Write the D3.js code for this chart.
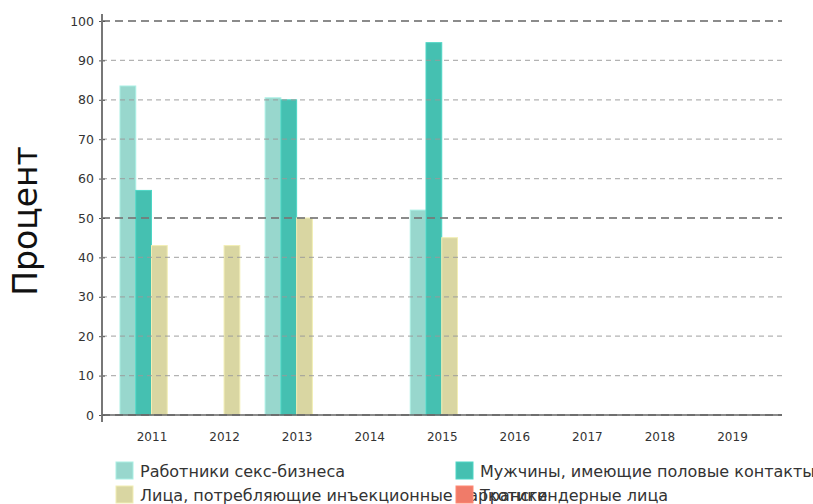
<!DOCTYPE html>
<html><head><meta charset="utf-8">
<script src="https://cdn.jsdelivr.net/npm/d3@7"></script>
<style>body{margin:0;background:#fff}svg{display:block;font-family:"DejaVu Sans",sans-serif}</style>
</head><body><svg id="c" width="813" height="504"></svg>
<script>
const years = ["2011","2012","2013","2014","2015","2016","2017","2018","2019"];
const seriesNames = ["Работники секс-бизнеса","Мужчины, имеющие половые контакты","Лица, потребляющие инъекционные наркотики","Трансгендерные лица"];
const sexWorkers = [83.5, null, 80.5, null, 52, null, null, null, null];
const msm = [57, null, 80, null, 94.5, null, null, null, null];
const pwid = [43, 43, 50, null, 45, null, null, null, null];
const transgender = [null, null, null, null, null, null, null, null, null];
const colors = ["#98d7cd","#45c0b1","#d9d6a2","#f07b69"];
const yTicks = [0,10,20,30,40,50,60,70,80,90,100];
const allSeries = [sexWorkers, msm, pwid, transgender];

const svg = d3.select("#c");
const x = d3.scalePoint().domain(years).range([151.5, 732]);
const y = d3.scaleLinear().domain([0,100]).range([415, 21]);
const sub = d3.scaleBand().domain(d3.range(4)).range([-31.5, 31.5]);

const g = svg.append("g");
allSeries.forEach((s, si) => {
  g.selectAll(null).data(years.map((yr,i)=>({yr, v:s[i]})).filter(d=>d.v!=null))
   .enter().append("rect")
   .attr("x", d => x(d.yr) + sub(si))
   .attr("width", sub.bandwidth())
   .attr("y", d => y(d.v))
   .attr("height", d => y(0) - y(d.v))
   .attr("fill", colors[si])
   .attr("stroke", d3.color(colors[si]).brighter(0.3))
   .attr("stroke-width", 1);
});

const grid = svg.append("g");
yTicks.forEach(t => {
  const major = t % 50 === 0;
  grid.append("line").attr("x1", 102).attr("x2", 782).attr("y1", y(t)).attr("y2", y(t))
    .attr("stroke", major ? "#777" : "#999")
    .attr("stroke-opacity", major ? 0.85 : 0.75)
    .attr("stroke-width", major ? 1.8 : 1.2)
    .attr("stroke-dasharray", major ? "8,5" : "5,4");
});

const ya = svg.append("g").attr("transform","translate(102,0)")
  .call(d3.axisLeft(y).tickValues(yTicks).tickSize(5).tickPadding(3));
ya.select(".domain").remove();
ya.selectAll(".tick line").attr("stroke","#555").attr("x2",3).attr("x1",-3);
ya.selectAll(".tick text").attr("font-size",12.5).attr("fill","#333").attr("font-family","DejaVu Sans");
svg.append("line").attr("x1",102).attr("x2",102).attr("y1",14).attr("y2",422).attr("stroke","#777").attr("stroke-width",2);

svg.append("line").attr("x1",102).attr("x2",782).attr("y1",415).attr("y2",415).attr("stroke","#666").attr("stroke-width",1.5);
const xa = svg.append("g").attr("transform","translate(0,415)")
  .call(d3.axisBottom(x).tickSize(0).tickPadding(17));
xa.select(".domain").remove();
xa.selectAll(".tick text").attr("font-size",12).attr("fill","#333").attr("font-family","DejaVu Sans");

svg.append("text").attr("transform","translate(37,221) rotate(-90)")
  .attr("text-anchor","middle").attr("font-size",33).attr("fill","#111").text("Процент");

const legPos = [[116,471],[456,471],[116,495],[456,495]];
seriesNames.forEach((n,i) => {
  const [lx, ly] = legPos[i];
  svg.append("rect").attr("x",lx).attr("y",ly-9).attr("width",17).attr("height",17)
    .attr("fill",colors[i]).attr("stroke", d3.color(colors[i]).brighter(0.3));
  svg.append("text").attr("x",lx+24).attr("y",ly+5.5).attr("font-size",16).attr("fill","#333").text(n);
});
</script></body></html>
